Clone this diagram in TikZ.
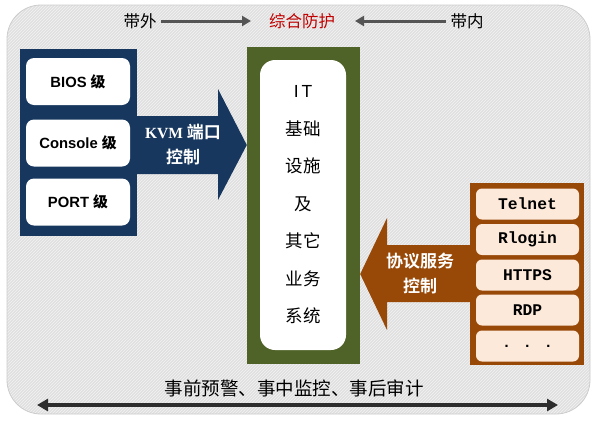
\documentclass[tikz,border=0pt]{standalone}
\usepackage{fontspec}
\setmainfont{Liberation Sans}
\newfontfamily\cjk{Noto Sans CJK SC}
\newfontfamily\cjkb{Noto Sans CJK SC Bold}
\newfontfamily\monob{Liberation Mono}[BoldFont={Liberation Mono Bold}]
\usetikzlibrary{arrows.meta,patterns}
\definecolor{navy}{HTML}{17375E}
\definecolor{olive}{HTML}{4F6228}
\definecolor{rust}{HTML}{984807}
\definecolor{peach}{HTML}{FDE9D9}
\definecolor{bggray}{HTML}{E0E0E0}
\definecolor{bgline}{HTML}{F3F3F3}
\definecolor{arrgray}{HTML}{555555}
\begin{document}
\begin{tikzpicture}[x=1pt,y=-1pt,
  whitebox/.style={draw=none,fill=white,rounded corners=8pt,minimum width=104pt,minimum height=47pt,inner sep=0pt,font=\bfseries\fontsize{14.8}{17}\selectfont},
  protobox/.style={draw=none,fill=peach,rounded corners=6pt,minimum width=103pt,minimum height=31pt,inner sep=0pt,font=\monob\bfseries\fontsize{16.3}{18}\selectfont},
  toplabel/.style={font=\cjk\fontsize{16.5}{18}\selectfont,inner sep=1pt},
  arrlabel/.style={font=\cjkb\fontsize{17}{25}\selectfont,text=white,align=center,inner sep=0pt},
  toparrow/.style={draw=arrgray,line width=3pt,-{Triangle[length=9pt,width=10pt]}}]
\useasboundingbox (0,0) rectangle (595,421);
% background
\fill[bggray,rounded corners=34pt] (7,5) rectangle (590,414);
\fill[pattern=north east lines,pattern color=bgline,rounded corners=34pt] (7,5) rectangle (590,414);
\draw[gray!40,line width=0.8pt,rounded corners=34pt] (7,5) rectangle (590,414);
% top labels
\node[toplabel] (out) at (140,21) {带外};
\node[toplabel,text={rgb,255:red,192;green,0;blue,0}] (mid) at (302,21) {综合防护};
\node[toplabel] (in) at (467,21) {带内};
\draw[toparrow] (out.east) ++(3,0) coordinate (o1) -- (mid.west -| 251,0) ;
\draw[toparrow] (in.west) ++(-3,0) coordinate (i1) -- (mid.east -| 355,0);
% left box
\node[fill=navy,minimum width=117pt,minimum height=187pt,inner sep=0pt] (left) at (78.5,142.5) {};
\node[whitebox] (bios) at (78,81.5) {BIOS \cjkb 级};
\node[whitebox] (console) at (78,143) {Console \cjkb 级};
\node[whitebox] (port) at (78,202) {PORT \cjkb 级};
% center box
\node[fill=olive,minimum width=113pt,minimum height=317pt,inner sep=0pt] (center) at (303.5,205.5) {};
\node[fill=white,rounded corners=15pt,minimum width=86pt,minimum height=290pt,inner sep=0pt,
  font=\cjk\fontsize{17.5}{37.5}\selectfont,align=center] (it) at (303,205)
  {\fontspec{Liberation Sans}I\,T\\基础\\设施\\及\\其它\\业务\\系统};
% right box
\node[fill=rust,minimum width=114pt,minimum height=182pt,inner sep=0pt] (right) at (527,274) {};
\node[protobox] (telnet) at (527.5,204) {Telnet};
\node[protobox] (rlogin) at (527.5,239.5) {Rlogin};
\node[protobox] (https) at (527.5,275) {HTTPS};
\node[protobox] (rdp) at (527.5,310) {RDP};
\node[protobox,font=\monob\bfseries\fontsize{15}{18}\selectfont] (dots) at (527.5,346) {\raisebox{-2pt}{. . .}};
% KVM arrow
\fill[navy] (left.east |- 0,116) -- (218,116) -- (218,89) -- (center.west |- 0,145) -- (218,200) -- (218,174) -- (left.east |- 0,174) -- cycle;
\node[arrlabel] (kvm) at (183,145) {{\fontspec{Liberation Serif}\bfseries\fontsize{15.5}{25}\selectfont KVM} 端口\\控制};
% protocol arrow
\fill[rust] (right.west |- 0,245) -- (387,245) -- (387,218) -- (center.east |- 0,274) -- (387,330) -- (387,302) -- (right.west |- 0,302) -- cycle;
\node[arrlabel] (proto) at (420,274) {协议服务\\控制};
% bottom
\node[font=\cjk\fontsize{18.5}{20}\selectfont,inner sep=1pt] (phase) at (294,388) {事前预警、事中监控、事后审计};
\coordinate (bl) at (37,405);
\coordinate (br) at (558,405);
\draw[draw={rgb,255:red,45;green,45;blue,45},line width=3.8pt,{Triangle[length=11pt,width=12pt]}-{Triangle[length=11pt,width=12pt]}] (bl) -- (br);
\end{tikzpicture}
\end{document}
